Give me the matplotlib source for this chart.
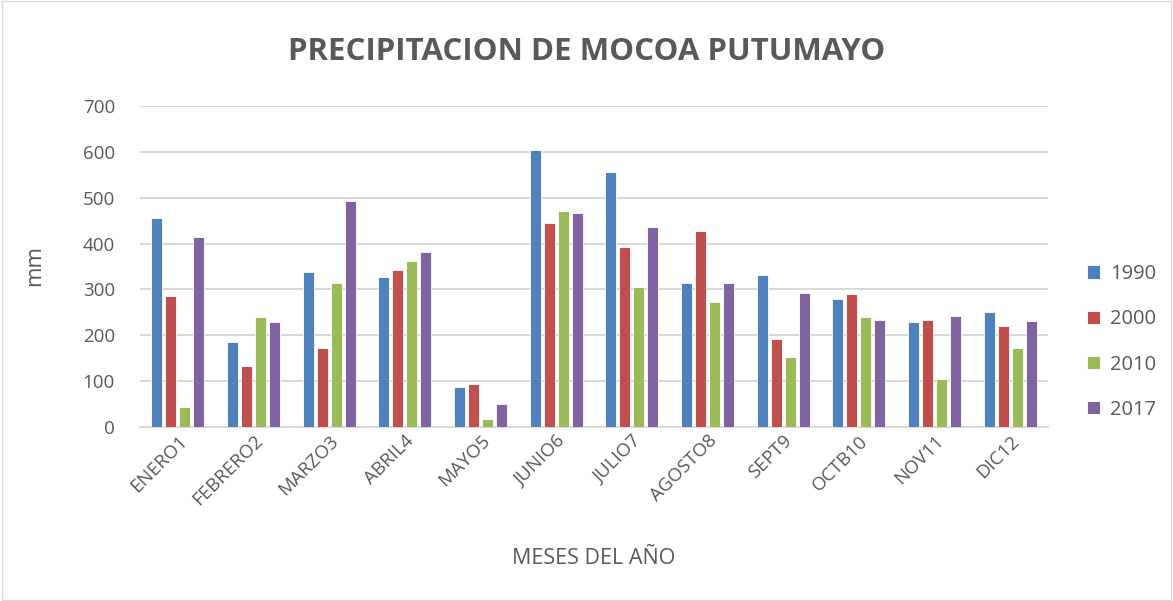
import numpy as np
import matplotlib
matplotlib.use('Agg')
import matplotlib.pyplot as plt

plt.rcParams['font.family'] = ['Open Sans', 'DejaVu Sans']

# ── Data ──────────────────────────────────────────────────────────────────────
meses = ['ENERO1', 'FEBRERO2', 'MARZO3', 'ABRIL4', 'MAYO5', 'JUNIO6',
         'JULIO7', 'AGOSTO8', 'SEPT9', 'OCTB10', 'NOV11', 'DIC12']
anios = ['1990', '2000', '2010', '2017']
p1990 = [456, 186, 338, 328, 87, 605, 557, 315, 331, 279, 229, 251]
p2000 = [286, 133, 172, 343, 93, 445, 392, 428, 192, 291, 234, 220]
p2010 = [44, 239, 313, 362, 18, 472, 305, 272, 153, 239, 105, 173]
p2017 = [414, 229, 492, 381, 50, 467, 437, 315, 292, 234, 241, 231]
colores = ['#4f81bd', '#c0504d', '#9bbb59', '#8064a2']

gris = '#595959'

fig = plt.figure(figsize=(11.73, 6.01), dpi=100)
ax = fig.add_axes([140/1173, 1-427/601, 908/1173, 321/601])

x = np.arange(len(meses))
step, w = 0.185, 0.145
for i, (serie, c, lab) in enumerate(zip([p1990, p2000, p2010, p2017], colores, anios)):
    ax.bar(x + (i - 1.5) * step, serie, width=w, color=c, edgecolor='white',
           linewidth=0.6, label=lab, zorder=3)

ax.set_xlim(-0.5, len(meses) - 0.5)
ax.set_ylim(0, 700)
ax.set_yticks(range(0, 701, 100))
ax.grid(axis='y', color='#d9d9d9', lw=1.4, zorder=0)
for s in ['top', 'right', 'left']:
    ax.spines[s].set_visible(False)
ax.spines['bottom'].set_color('#d9d9d9')
ax.spines['bottom'].set_linewidth(1.4)
ax.tick_params(axis='both', length=0, colors=gris, labelsize=13.5)
ax.tick_params(axis='y', pad=18)
ax.set_xticks(x)
ax.set_xticklabels(meses, rotation=45, ha='right', rotation_mode='anchor')

fig.text(0.5, 1-52/601, 'PRECIPITACION DE MOCOA PUTUMAYO', ha='center', va='center',
         fontsize=22.5, fontweight='bold', color=gris)
fig.text(35/1173, 1-265/601, 'mm', rotation=90, ha='center', va='center',
         fontsize=16, color=gris)
fig.text(594/1173, 1-558/601, 'MESES DEL AÑO', ha='center', va='center',
         fontsize=15.5, color=gris)

ax.legend(loc='center left', bbox_to_anchor=(1087/1173, 1-342/601),
          bbox_transform=fig.transFigure, frameon=False, fontsize=14.5,
          labelcolor=gris, handlelength=0.65, handleheight=0.65,
          borderaxespad=0, borderpad=0,
          labelspacing=1.25, handletextpad=0.5)

fig.add_artist(plt.Rectangle((0.002, 0.002), 0.996, 0.996, transform=fig.transFigure,
                             fill=False, edgecolor='#d9d9d9', lw=1))

plt.savefig('out.png', dpi=100)
